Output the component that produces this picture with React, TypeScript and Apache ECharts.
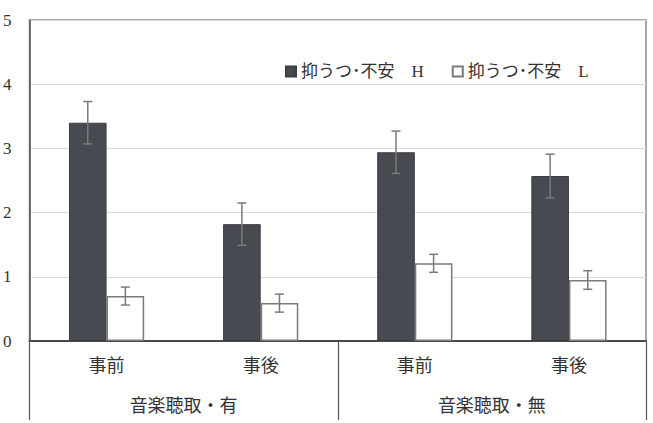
import React, { useEffect, useRef } from "react";
import * as echarts from "echarts";

const categories = ["事前", "事後", "事前", "事後"];
const groups = ["音楽聴取・有", "音楽聴取・無"];
const seriesNames = ["抑うつ･不安　H", "抑うつ･不安　L"];
const hMeans = [3.4, 1.82, 2.94, 2.57];
const hErr = [0.33, 0.33, 0.33, 0.34];
const lMeans = [0.7, 0.59, 1.21, 0.95];
const lErr = [0.14, 0.14, 0.14, 0.145];
const yTicks = [0, 1, 2, 3, 4, 5];

const FONT = "'Liberation Serif', 'Noto Sans CJK JP', serif";
const BAR_FRAC = 0.244;

export default function App() {
  const ref = useRef<HTMLDivElement>(null);
  useEffect(() => {
    if (!ref.current) return;
    const chart = echarts.init(ref.current, undefined, { renderer: "svg" });

    const errRender = (side: number) => (params: any, api: any) => {
      const idx = api.value(0);
      const mean = api.value(1);
      const err = api.value(2);
      const band = api.size([1, 0])[0];
      const off = (side * band * BAR_FRAC) / 2;
      const top = api.coord([idx, mean + err]);
      const bot = api.coord([idx, mean - err]);
      const x = top[0] + off;
      const cap = 4.5;
      const style = { stroke: "#7a7a7a", lineWidth: 1.5 };
      return {
        type: "group",
        children: [
          { type: "line", shape: { x1: x, y1: top[1], x2: x, y2: bot[1] }, style },
          { type: "line", shape: { x1: x - cap, y1: top[1], x2: x + cap, y2: top[1] }, style },
          { type: "line", shape: { x1: x - cap, y1: bot[1], x2: x + cap, y2: bot[1] }, style },
        ],
      };
    };

    chart.setOption({
      animation: false,
      backgroundColor: "#ffffff",
      grid: {
        left: 24,
        right: 7,
        top: 20,
        bottom: 82,
        show: true,
        borderColor: "#8a8a8a",
        borderWidth: 1.5,
      },
      legend: {
        left: 280,
        top: 58,
        itemWidth: 10,
        itemHeight: 10,
        itemGap: 28,
        data: [
          { name: seriesNames[0], icon: "rect" },
          { name: seriesNames[1], icon: "rect" },
        ],
        textStyle: { fontFamily: FONT, fontSize: 17, color: "#333" },
      },
      xAxis: [
        {
          type: "category",
          data: categories,
          axisLine: { show: true, lineStyle: { color: "#4a4a4a", width: 2 } },
          axisTick: { show: false },
          axisLabel: { margin: 16, fontFamily: FONT, fontSize: 18, color: "#333" },
        },
        {
          type: "category",
          data: groups,
          position: "bottom",
          axisLine: { show: false },
          axisTick: { show: true, length: 79, lineStyle: { color: "#555", width: 1.2 } },
          axisLabel: { margin: 56, fontFamily: FONT, fontSize: 18, color: "#333" },
        },
      ],
      yAxis: {
        type: "value",
        min: 0,
        max: 5,
        interval: 1,
        axisLine: { show: true, lineStyle: { color: "#555", width: 1.5 } },
        axisTick: { show: false },
        axisLabel: {
          margin: 18,
          fontFamily: FONT,
          fontSize: 17,
          color: "#333",
          formatter: (v: number) => (yTicks.includes(v) ? String(v) : ""),
        },
        splitLine: { lineStyle: { color: "#d9d9d9", width: 1.2 } },
      },
      series: [
        {
          name: seriesNames[0],
          type: "bar",
          data: hMeans,
          barWidth: BAR_FRAC * 100 + "%",
          barGap: "0%",
          itemStyle: { color: "#474a50", borderColor: "#3c3e42", borderWidth: 1 },
        },
        {
          name: seriesNames[1],
          type: "bar",
          data: lMeans,
          barWidth: BAR_FRAC * 100 + "%",
          barGap: "0%",
          itemStyle: { color: "#ffffff", borderColor: "#7a7a7a", borderWidth: 1.5 },
        },
        {
          type: "custom",
          renderItem: errRender(-1),
          data: hMeans.map((m, i) => [i, m, hErr[i]]),
          z: 5,
        },
        {
          type: "custom",
          renderItem: errRender(1),
          data: lMeans.map((m, i) => [i, m, lErr[i]]),
          z: 5,
        },
      ],
    });
    return () => chart.dispose();
  }, []);
  return (
    <div
      ref={ref}
      style={{ position: "fixed", left: 0, top: 0, width: 653, height: 423 }}
    />
  );
}
